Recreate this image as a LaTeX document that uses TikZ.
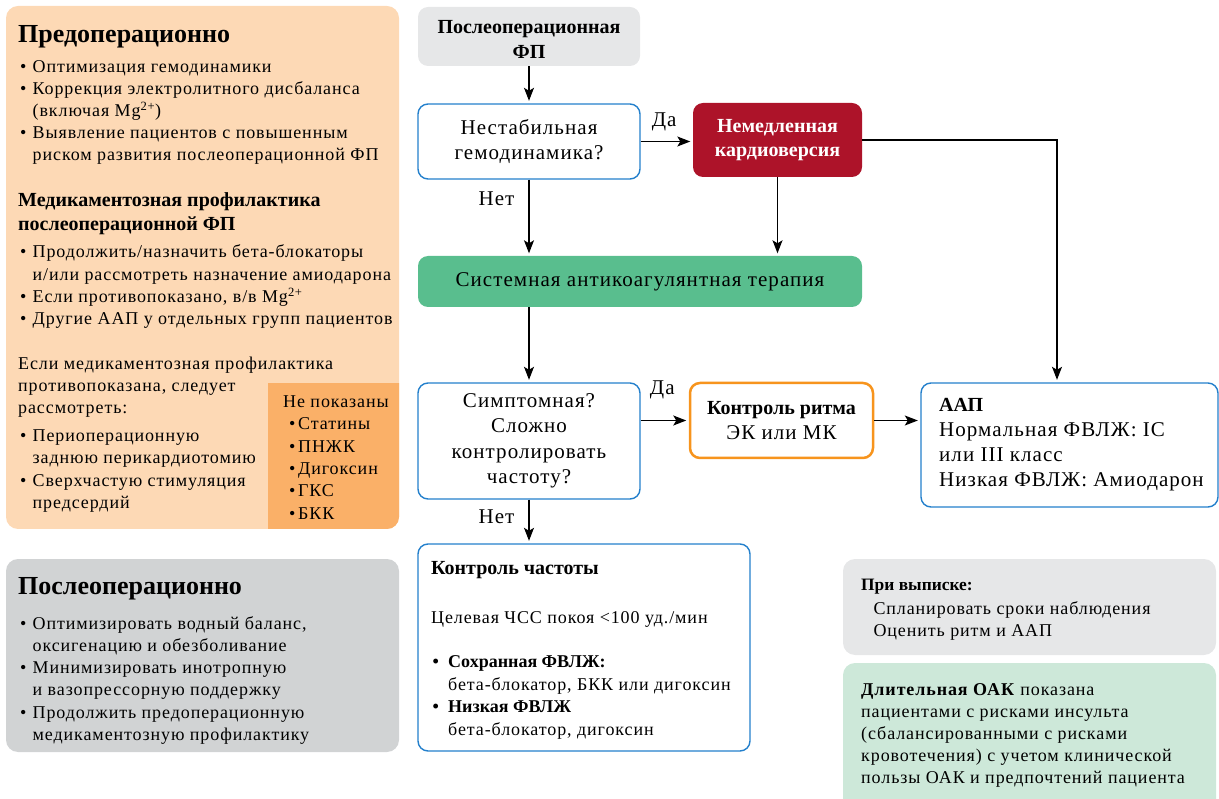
\documentclass[tikz,border=0pt]{standalone}
\usepackage{fontspec}
\setmainfont{Liberation Serif}[LetterSpace=5]
\newfontfamily\tight{Liberation Serif}
\usetikzlibrary{arrows.meta,fit}
\definecolor{orL}{RGB}{253,217,181}
\definecolor{orD}{RGB}{250,176,104}
\definecolor{grM}{RGB}{209,211,212}
\definecolor{grL}{RGB}{230,231,232}
\definecolor{gnM}{RGB}{89,190,142}
\definecolor{gnL}{RGB}{205,232,217}
\definecolor{rdM}{RGB}{173,19,41}
\definecolor{blM}{RGB}{36,128,204}
\definecolor{orB}{RGB}{247,148,29}
\newcommand{\fs}[2]{\fontsize{#1}{#2}\selectfont}
\newcommand{\ls}[1]{\begin{tabular}[t]{@{}l@{}}#1\end{tabular}}
\newcommand{\bu}{\makebox[12.5pt][l]{•}}
\newcommand{\ind}{\hspace*{12.5pt}}
\newcommand{\bub}{\makebox[15.5pt][l]{\textbf{•}}}
\newcommand{\indb}{\hspace*{15.5pt}}
\newcommand{\bus}{\makebox[9pt][l]{•}}
\begin{document}
\begin{tikzpicture}[x=1pt,y=-1pt,
  panel/.style={rounded corners=12pt, inner sep=0pt},
  flow/.style={rounded corners=10pt, inner sep=0pt, align=center, font=\fs{21}{25}},
  qbox/.style={flow, draw=blM, line width=1.4pt, fill=white},
  txt/.style={anchor=base west, inner sep=0pt},
  arr/.style={-{Stealth[length=13pt,width=10pt,inset=3pt]}, line width=1.2pt, shorten >=2.5pt},
  lbl/.style={inner sep=0pt, font=\fs{21}{25}}]
\clip (0,0) rectangle (1219,799);
% ---------- left panels ----------
\node[panel, fill=orL, fit={(6,6) (399,529)}] (pre) {};
\begin{scope}
\clip[rounded corners=12pt] (6,6) rectangle (399,529);
\node[fill=orD, inner sep=0pt, fit={(268,383) (400,530)}] (nopanel) {};
\end{scope}
\node[txt, font=\tight\bfseries\fs{26}{30}] (preH) at (18,43) {Предоперационно};
\node[txt, font=\fs{18}{22}] (preL1) at (20,73) {\ls{\bu Оптимизация гемодинамики\\
 \bu Коррекция электролитного дисбаланса\\
 \ind (включая Mg\textsuperscript{2+})\\
 \bu Выявление пациентов с повышенным\\
 \ind риском развития послеоперационной ФП}};
\node[txt, font=\tight\bfseries\fs{20}{24}] (preH2) at (18,207) {\ls{Медикаментозная профилактика\\ послеоперационной ФП}};
\node[txt, font=\fs{18}{22.3}] (preL2) at (20,258) {\ls{\bu Продолжить/назначить бета-блокаторы\\
 \ind и/или рассмотреть назначение амиодарона\\
 \bu Если противопоказано, в/в Mg\textsuperscript{2+}\\
 \bu Другие ААП у отдельных групп пациентов}};
\node[txt, font=\fs{18}{21.7}] (preP) at (18,370) {\ls{Если медикаментозная профилактика\\ противопоказана, следует\\ рассмотреть:}};
\node[txt, font=\fs{18}{22.3}] (preL3) at (20,441.7) {\ls{\bu Периоперационную\\
 \ind заднюю перикардиотомию\\
 \bu Сверхчастую стимуляция\\
 \ind предсердий}};
\node[txt, font=\fs{18}{22}] (noH) at (283,407.7) {Не показаны};
\node[txt, font=\fs{18}{22.3}] (noL) at (289,430) {\ls{\bus Статины\\ \bus ПНЖК\\ \bus Дигоксин\\ \bus ГКС\\ \bus БКК}};
\node[panel, fill=grM, fit={(6,559) (399,752)}] (post) {};
\node[txt, font=\tight\bfseries\fs{26}{30}] (postH) at (18,594) {Послеоперационно};
\node[txt, font=\fs{18}{22.3}] (postL) at (20,629) {\ls{\bu Оптимизировать водный баланс,\\
 \ind оксигенацию и обезболивание\\
 \bu Минимизировать инотропную\\
 \ind и вазопрессорную поддержку\\
 \bu Продолжить предоперационную\\
 \ind медикаментозную профилактику}};
% ---------- flow ----------
\node[flow, fill=grL, minimum width=222, minimum height=59, font=\tight\bfseries\fs{20}{25}] (top) at (529,36.5) {\rule{0pt}{19pt}Послеоперационная\\ФП};
\node[qbox, minimum width=222, minimum height=75] (q1) at (529,141.5) {Нестабильная\\гемодинамика?};
\node[flow, fill=rdM, text=white, font=\tight\bfseries\fs{20}{24.5}, minimum width=169, minimum height=74] (cv) at (777.5,140) {Немедленная\\кардиоверсия};
\node[flow, fill=gnM, minimum width=444, minimum height=51] (ac) at (640,281.5) {Системная антикоагулянтная терапия};
\node[qbox, minimum width=222, minimum height=116, font=\fs{21}{25.4}] (q2) at (529,441) {Симптомная?\\Сложно\\контролировать\\частоту?};
\node[flow, draw=orB, line width=2.5pt, fill=white, minimum width=183, minimum height=75] (rc) at (781.5,420.5) {{\tight\bfseries\fs{20}{25}Контроль ритма}\\ЭК или МК};
\node[qbox, minimum width=297, minimum height=124] (aap) at (1069.5,445) {};
\node[txt, font=\fs{21}{25}] (aapT) at (939,411.7) {\ls{{\tight\bfseries\fs{20}{25}ААП}\\ Нормальная ФВЛЖ: IC\\ или III класс\\ Низкая ФВЛЖ: Амиодарон}};
\node[qbox, minimum width=332, minimum height=207] (rate) at (584,647.5) {};
\node[txt, font=\tight\bfseries\fs{20}{24}] (rateH) at (431,574) {Контроль частоты};
\node[txt, font=\fs{18}{22}] (rateT) at (431,623.3) {Целевая ЧСС покоя <100 уд./мин};
\node[txt, font=\fs{18}{22.5}] (rateL) at (432.5,667.7) {\ls{\bub{\tight\bfseries Сохранная ФВЛЖ:}\\
 \indb бета-блокатор, БКК или дигоксин\\
 \bub{\tight\bfseries Низкая ФВЛЖ}\\
 \indb бета-блокатор, дигоксин}};
\node[panel, fill=grL, fit={(843,559) (1216,655)}] (disc) {};
\node[txt, font=\tight\bfseries\fs{17.4}{20}] (discH) at (861,590.7) {При выписке:};
\node[txt, font=\fs{18}{22.4}] (discT) at (873.3,614.3) {\ls{Спланировать сроки наблюдения\\ Оценить ритм и ААП}};
\node[panel, fill=gnL, fit={(843,663) (1216,815)}] (oac) {};
\node[txt, font=\fs{18}{22.1}] (oacT) at (861,695) {\ls{\textbf{Длительная ОАК} показана\\
 пациентами с рисками инсульта\\
 (сбалансированными с рисками\\
 кровотечения) с учетом клинической\\
 пользы ОАК и предпочтений пациента}};
% ---------- connectors ----------
\draw[arr] (top.south) -- (q1.north);
\draw[arr] (q1.east) -- node[lbl, above=10pt, pos=0.45] {Да} (q1.east -| cv.west);
\draw[arr] (q1.south) -- node[lbl, left=14pt, pos=0.25] {Нет} (q1.south |- ac.north);
\draw[arr] (cv.south) -- (cv.south |- ac.north);
\draw[arr] (cv.east) -| ([xshift=-12.5pt]aap.north);
\draw[arr] (q2.north |- ac.south) -- (q2.north);
\draw[arr] (q2.east |- rc.west) -- node[lbl, above=21pt, pos=0.45] {Да} (rc.west);
\draw[arr] (rc.east) -- (rc.east -| aap.west);
\draw[arr] (q2.south) -- node[lbl, left=14pt, pos=0.38] {Нет} (q2.south |- rate.north);
\end{tikzpicture}
\end{document}
